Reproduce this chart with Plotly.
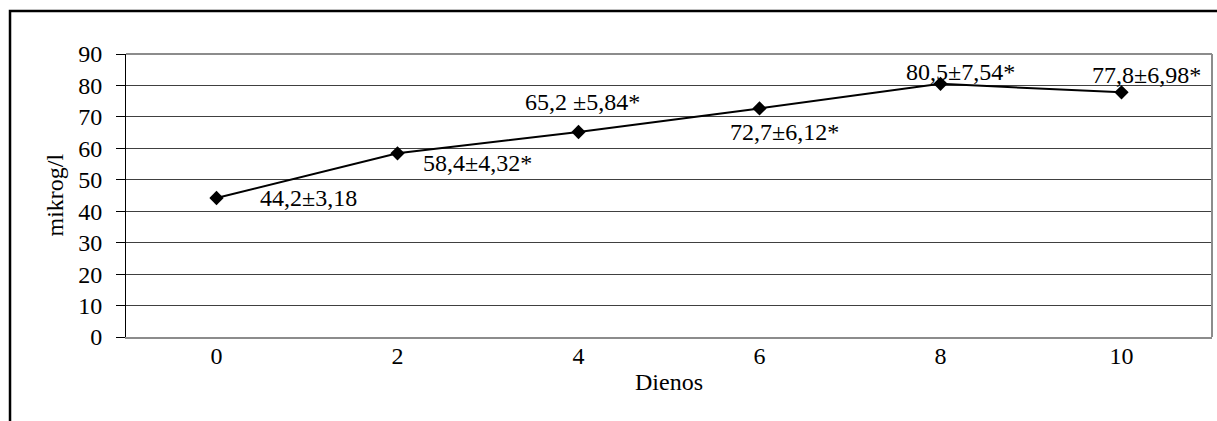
import plotly.graph_objects as go

days = ["0", "2", "4", "6", "8", "10"]
values = [44.2, 58.4, 65.2, 72.7, 80.5, 77.8]
labels = ["44,2±3,18", "58,4±4,32*", "65,2 ±5,84*", "72,7±6,12*", "80,5±7,54*", "77,8±6,98*"]
label_dx = [92, 80, 4, 25, 20, 25]
label_dy = [0, -10, 30, -24, 12, 17]
y_ticks = [0, 10, 20, 30, 40, 50, 60, 70, 80, 90]

FONT = "Liberation Serif, Times New Roman, serif"

fig = go.Figure()
fig.add_trace(go.Scatter(
    x=days, y=values, mode="lines+markers",
    line=dict(color="black", width=2),
    marker=dict(symbol="diamond", size=11, color="black"),
    showlegend=False, hoverinfo="skip",
))

annotations = []
for i, (v, t, dx, dy) in enumerate(zip(values, labels, label_dx, label_dy)):
    annotations.append(dict(x=i, y=v, xref="x", yref="y", text=t, showarrow=False,
                            xanchor="center", yanchor="middle",
                            xshift=dx, yshift=dy, font=dict(family=FONT, size=24, color="black")))
annotations.append(dict(x=0.5, y=0, xref="paper", yref="paper", text="Dienos", showarrow=False,
                        xanchor="center", yanchor="top", yshift=-30,
                        font=dict(family=FONT, size=24, color="black")))
annotations.append(dict(x=0, y=0.5, xref="paper", yref="paper", text="mikrog/l", showarrow=False,
                        textangle=-90, xanchor="center", yanchor="middle", xshift=-72,
                        font=dict(family=FONT, size=24, color="black")))

shapes = [
    # plot area border (top and right)
    dict(type="line", xref="paper", yref="paper", x0=0, x1=1, y0=1, y1=1,
         line=dict(color="#8c8c8c", width=2), layer="above"),
    dict(type="line", xref="paper", yref="paper", x0=1, x1=1, y0=0, y1=1,
         line=dict(color="#8c8c8c", width=2), layer="above"),
    # outer chart frame
    dict(type="rect", xref="paper", yref="paper", x0=-0.1068, x1=1.2, y0=-0.6, y1=1.152,
         line=dict(color="black", width=2.5), layer="below"),
]

fig.update_layout(
    width=1217, height=421,
    margin=dict(l=126, r=5, t=54, b=84),
    paper_bgcolor="white", plot_bgcolor="white",
    font=dict(family=FONT, size=24, color="black"),
    annotations=annotations, shapes=shapes,
    xaxis=dict(type="category", range=[-0.5, len(days) - 0.5], showgrid=False, showline=True,
               linecolor="#8c8c8c", linewidth=2,
               ticks="", tickfont=dict(family=FONT, size=24, color="black"),
               ticklabelstandoff=-4, zeroline=False, fixedrange=True),
    yaxis=dict(range=[0, 90], tickvals=y_ticks, showgrid=True, gridcolor="#404040", gridwidth=1,
               showline=True, linecolor="black", linewidth=1, ticks="outside", ticklen=9,
               tickcolor="black", tickwidth=1, ticklabelstandoff=9,
               tickfont=dict(family=FONT, size=24, color="black"), zeroline=False, fixedrange=True),
)

fig.write_html("out.html", config={"displayModeBar": False},
               post_script="document.body.style.margin='0px';document.body.style.overflow='hidden';")
